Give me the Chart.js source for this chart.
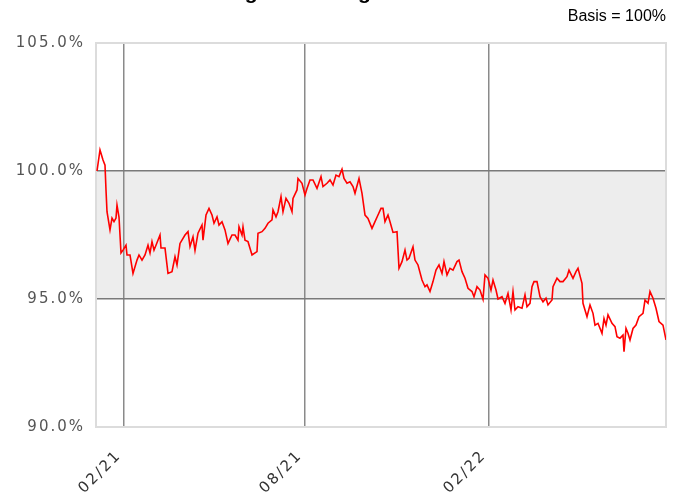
<!DOCTYPE html>
<html>
<head>
<meta charset="utf-8">
<script src="https://cdn.jsdelivr.net/npm/chart.js@4.4.1/dist/chart.umd.min.js"></script>
<style>
    html, body { margin: 0; padding: 0; background: #ffffff; }
    #wrap { width: 678px; height: 493px; position: relative; }
</style>
</head>
<body>
<div id="wrap"><canvas id="chart"></canvas></div>
<script>
// day number counted from 2021-01-01 (day 0)
const dayNumbers = [
    4, 7, 10, 12, 13, 14, 17, 19, 21, 23, 24, 26, 28, 30, 33, 34, 37, 40, 44, 46,
    49, 52, 55, 57, 59, 61, 63, 67, 68, 72, 75, 79, 82, 84, 87, 92, 95, 97, 100, 102,
    105, 109, 110, 113, 116, 119, 121, 124, 126, 129, 132, 135, 139, 142, 145, 146, 149, 150, 152, 155,
    159, 164, 165, 169, 172, 175, 179, 180, 183, 185, 188, 190, 193, 196, 199, 200, 204, 205, 209, 212,
    214, 217, 220, 224, 228, 230, 234, 237, 240, 243, 246, 249, 251, 254, 257, 260, 262, 266, 269, 272,
    275, 279, 282, 285, 288, 290, 292, 295, 297, 300, 304, 306, 309, 312, 314, 316, 320, 322, 325, 329,
    332, 334, 337, 340, 343, 346, 349, 351, 354, 357, 360, 364, 366, 369, 372, 375, 379, 381, 384, 387,
    390, 392, 395, 398, 400, 403, 405, 409, 412, 415, 418, 420, 422, 425, 429, 432, 434, 437, 439, 441,
    444, 447, 450, 453, 455, 459, 460, 464, 467, 470, 474, 476, 480, 483, 485, 489, 490, 494, 497, 500,
    502, 505, 509, 511, 513, 515, 519, 522, 524, 527, 530, 531, 533, 535, 537, 540, 543, 546, 550, 552,
    555, 557, 560, 563, 566, 570, 573
];
const basisValues = [
    100.0, 100.82, 100.43, 100.23, 99.26, 98.41, 97.7, 98.16, 98.02, 98.16, 98.67, 98.2, 96.8, 96.91, 97.1, 96.72, 96.72, 96.0, 96.52, 96.72,
    96.52, 96.72, 97.1, 96.8, 97.24, 96.91, 97.1, 97.5, 96.99, 96.99, 96.0, 96.07, 96.65, 96.33, 97.17, 97.5, 97.63, 97.05, 97.43, 96.9,
    97.57, 97.89, 97.3, 98.28, 98.54, 98.28, 97.96, 98.21, 97.89, 98.02, 97.7, 97.17, 97.5, 97.5, 97.3, 97.82, 97.5, 97.82, 97.3, 97.24,
    96.72, 96.85, 97.57, 97.63, 97.76, 97.96, 98.09, 98.48, 98.21, 98.41, 99.0, 98.41, 98.93, 98.74, 98.41, 98.93, 99.26, 99.71, 99.52, 99.06,
    99.32, 99.65, 99.65, 99.32, 99.78, 99.39, 99.52, 99.65, 99.45, 99.84, 99.78, 100.07, 99.71, 99.52, 99.58, 99.39, 99.13, 99.71, 99.13, 98.28,
    98.15, 97.76, 98.02, 98.28, 98.54, 98.54, 98.02, 98.28, 98.02, 97.6, 97.63, 96.2, 96.46, 96.91, 96.52, 96.59, 97.04, 96.52, 96.33, 95.74,
    95.48, 95.55, 95.29, 95.68, 96.13, 96.33, 96.0, 96.46, 95.94, 96.2, 96.13, 96.46, 96.52, 96.07, 95.81, 95.42, 95.29, 95.09, 95.48, 95.35,
    94.99, 95.94, 95.81, 95.35, 95.74, 95.35, 95.0, 95.09, 94.83, 95.22, 94.57, 95.29, 94.57, 94.7, 94.64, 95.16, 94.7, 94.83, 95.48, 95.68,
    95.68, 95.09, 94.89, 95.03, 94.77, 94.96, 95.48, 95.81, 95.68, 95.68, 95.87, 96.13, 95.81, 96.07, 96.2, 95.61, 94.83, 94.31, 94.77, 94.44,
    93.98, 94.05, 93.66, 94.24, 93.98, 94.38, 94.05, 93.92, 93.53, 93.47, 93.59, 92.94, 93.85, 93.66, 93.4, 93.85, 93.98, 94.31, 94.44, 94.96,
    94.83, 95.29, 95.03, 94.64, 94.12, 93.98, 93.4
];

// x-axis ticks (02/21, 08/21, 02/22)
const tickDays = [31, 212, 396];
const tickLabels = ['02/21', '08/21', '02/22'];

// y-axis ticks
const yTicks = [90, 95, 100, 105];
const bandLow = 95;
const bandHigh = 100;

const titleText = 'Wertentwicklung seit Auflage';
const basisText = 'Basis = 100%';

const points = dayNumbers.map((d, i) => ({ x: d, y: basisValues[i] }));

const decorPlugin = {
    id: 'decor',
    beforeDraw(chart) {
        const ctx = chart.ctx;
        const area = chart.chartArea;
        const yScale = chart.scales.y;
        ctx.save();
        // grey band between 95 % and 100 %
        const yTop = yScale.getPixelForValue(bandHigh);
        const yBottom = yScale.getPixelForValue(bandLow);
        ctx.fillStyle = '#ededed';
        ctx.fillRect(area.left, yTop, area.right - area.left, yBottom - yTop);
        ctx.restore();
        // spaced out tick text like the original
        ctx.letterSpacing = '2px';
    },
    beforeDatasetsDraw(chart) {
        const ctx = chart.ctx;
        const area = chart.chartArea;
        ctx.save();
        ctx.strokeStyle = '#dcdcdc';
        ctx.lineWidth = 2;
        ctx.strokeRect(area.left, area.top, area.right - area.left, area.bottom - area.top);
        ctx.restore();
    },
    afterDraw(chart) {
        const ctx = chart.ctx;
        ctx.save();
        ctx.letterSpacing = '0px';
        ctx.fillStyle = '#000000';
        ctx.textBaseline = 'middle';
        ctx.textAlign = 'right';
        ctx.font = '16px "Liberation Sans", Arial, sans-serif';
        ctx.fillText(basisText, chart.chartArea.right, 17);

        ctx.textBaseline = 'alphabetic';
        ctx.textAlign = 'left';
        ctx.font = 'bold 21px "Liberation Sans", Arial, sans-serif';
        ctx.fillText(titleText, 90, -1);
        ctx.restore();
    }
};

const config = {
    type: 'line',
    data: {
        datasets: [{
            data: points,
            borderColor: '#ff0000',
            borderWidth: 1.6,
            pointRadius: 0,
            fill: false,
            tension: 0,
        }]
    },
    options: {
        animation: false,
        responsive: true,
        maintainAspectRatio: false,
        layout: {
            padding: { left: 0, top: 43, right: 12, bottom: 0 }
        },
        scales: {
            x: {
                type: 'linear',
                min: 3,
                max: 573,
                afterBuildTicks: function(scale) {
                    scale.ticks = tickDays.map(v => ({ value: v }));
                },
                afterFit: function(scale) {
                    scale.height = 66;
                },
                grid: {
                    color: '#8a8a8a',
                    lineWidth: 1.5,
                    drawTicks: false,
                },
                border: { display: false },
                ticks: {
                    autoSkip: false,
                    minRotation: 45,
                    maxRotation: 45,
                    padding: 20,
                    labelOffset: -5,
                    color: '#333333',
                    font: { family: '"DejaVu Sans", Verdana, sans-serif', size: 15 },
                    callback: function(value, index) {
                        return tickLabels[index];
                    }
                }
            },
            y: {
                min: 90,
                max: 105,
                afterBuildTicks: function(scale) {
                    scale.ticks = yTicks.map(v => ({ value: v }));
                },
                afterFit: function(scale) {
                    scale.width = 96;
                },
                grid: {
                    color: function(c) {
                        const v = c.tick ? c.tick.value : null;
                        return (v === bandLow || v === bandHigh) ? '#7a7a7a' : 'rgba(0,0,0,0)';
                    },
                    lineWidth: 1.5,
                    drawTicks: false,
                },
                border: { display: false },
                ticks: {
                    padding: 11,
                    color: '#555555',
                    font: { family: '"DejaVu Sans", Verdana, sans-serif', size: 15 },
                    callback: function(value) {
                        return value.toFixed(1) + '%';
                    }
                }
            }
        },
        plugins: {
            legend: { display: false },
            tooltip: { enabled: false },
        }
    },
    plugins: [decorPlugin]
};

new Chart(document.getElementById('chart'), config);
</script>
</body>
</html>
